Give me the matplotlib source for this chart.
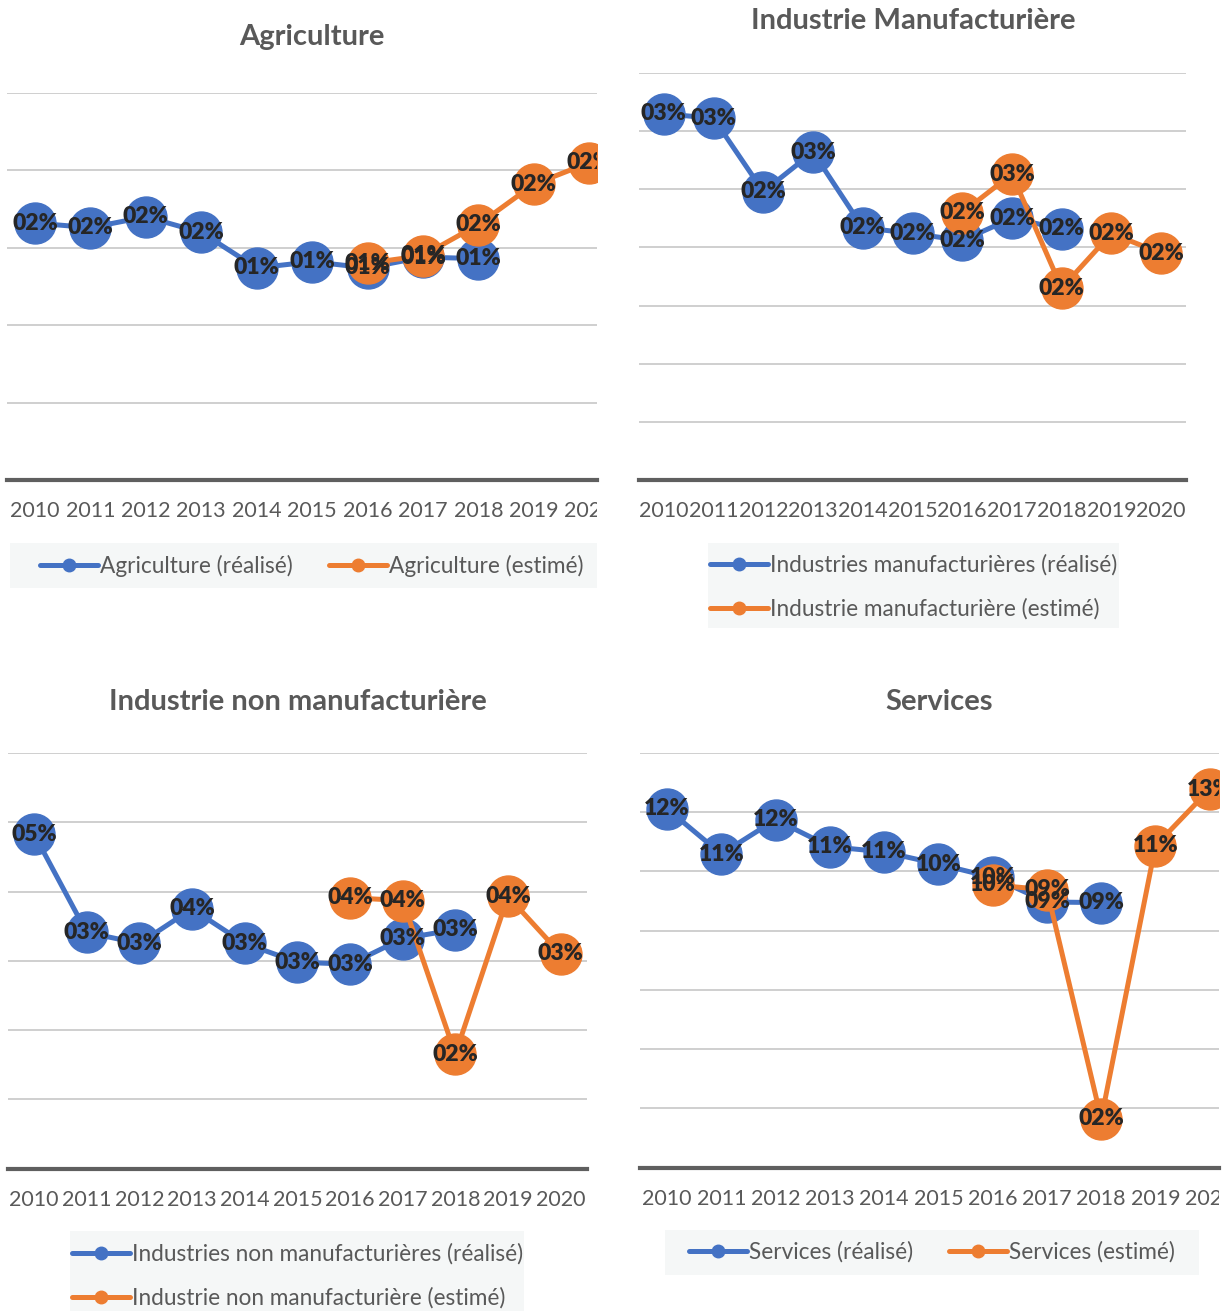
import math

import matplotlib

matplotlib.use("Agg")

import matplotlib.pyplot as plt  # noqa: E402
from matplotlib.lines import Line2D  # noqa: E402
from matplotlib.patches import Rectangle  # noqa: E402
from matplotlib.transforms import Bbox, ScaledTranslation, TransformedBbox  # noqa: E402

plt.rcParams["font.family"] = ["Lato", "DejaVu Sans"]

# ---------------------------------------------------------------------------
# Data (values in %)
# ---------------------------------------------------------------------------
years = [str(y) for y in range(2010, 2021)]
nan = float("nan")

agri_real = [1.66, 1.63, 1.70, 1.60, 1.37, 1.41, 1.37, 1.44, 1.43, nan, nan]
agri_est = [nan, nan, nan, nan, nan, nan, 1.40, 1.45, 1.65, 1.91, 2.05]

manu_real = [3.15, 3.11, 2.48, 2.82, 2.17, 2.12, 2.06, 2.25, 2.16, nan, nan]
manu_est = [nan, nan, nan, nan, nan, nan, 2.30, 2.63, 1.65, 2.12, 1.95]

nonmanu_real = [4.83, 3.41, 3.25, 3.75, 3.25, 2.98, 2.95, 3.32, 3.45, nan, nan]
nonmanu_est = [nan, nan, nan, nan, nan, nan, 3.91, 3.87, 1.65, 3.93, 3.10]

serv_real = [12.12, 10.59, 11.75, 10.84, 10.66, 10.25, 9.80, 8.97, 8.95, nan, nan]
serv_est = [nan, nan, nan, nan, nan, nan, 9.55, 9.38, 1.65, 10.87, 12.78]

BLUE = "#4472C4"
ORANGE = "#ED7D31"
GREY_TXT = "#595959"
W, H = 1224, 1311

fig = plt.figure(figsize=(W / 100, H / 100), dpi=100)


def px_axes(x0, y0, x1, y1):
    return fig.add_axes([x0 / W, 1 - y1 / H, (x1 - x0) / W, (y1 - y0) / H])


def panel(box, xmax, ymax, ystep, real, est, title, title_xy, clip_right,
          labels, legend_box, legend_center, ncol):
    ax = px_axes(*box)
    x = list(range(len(years)))
    ax.plot(x, real, color=BLUE, lw=3.6, marker="o", markersize=29.5,
            solid_capstyle="round", zorder=3)
    ax.plot(x, est, color=ORANGE, lw=3.6, marker="o", markersize=29.5,
            solid_capstyle="round", zorder=4)
    for series in (real, est):
        for xi, v in zip(x, series):
            if not math.isnan(v):
                ax.text(xi, v, f"{v:02.0f}%", ha="center", va="center",
                        fontsize=16.5, fontweight="heavy", color="#262626",
                        clip_on=True, zorder=6)
    ax.set_xlim(-0.5, xmax)
    ax.set_ylim(0, ymax)
    ax.set_yticks([ystep * k for k in range(1, int(round(ymax / ystep)) + 1)])
    ax.yaxis.grid(True, color="#cccccc", lw=1.3)
    ax.set_axisbelow(True)
    ax.set_xticks([])
    ax.tick_params(left=False, labelleft=False)
    for side in ("top", "left", "right"):
        ax.spines[side].set_visible(False)
    ax.spines["bottom"].set_color("#5f5f5f")
    ax.spines["bottom"].set_linewidth(3)

    # category labels, clipped like the original chart area
    clip = TransformedBbox(Bbox.from_extents(0, 0, clip_right / W, 1), fig.transFigure)
    trans = ax.get_xaxis_transform() + ScaledTranslation(0, -0.31, fig.dpi_scale_trans)
    for xi, yr in zip(x, years):
        t = ax.text(xi, 0, yr, transform=trans, ha="center", va="center",
                    fontsize=15.5, color=GREY_TXT, clip_on=True)
        t.set_clip_box(clip)

    fig.text(title_xy[0] / W, 1 - title_xy[1] / H, title, ha="center",
             va="center", fontsize=21, fontweight="bold", color=GREY_TXT)

    lx0, ly0, lx1, ly1 = legend_box
    fig.patches.append(Rectangle((lx0 / W, 1 - ly1 / H), (lx1 - lx0) / W,
                                 (ly1 - ly0) / H, transform=fig.transFigure,
                                 facecolor="#f5f7f7", edgecolor="none",
                                 zorder=0))
    handles = [Line2D([0], [0], color=BLUE, lw=3.6, marker="o", markersize=9,
                      solid_capstyle="round"),
               Line2D([0], [0], color=ORANGE, lw=3.6, marker="o", markersize=9,
                      solid_capstyle="round")]
    leg = fig.legend(handles, labels, loc="center",
                     bbox_to_anchor=(legend_center[0] / W, 1 - legend_center[1] / H),
                     ncol=ncol, frameon=False, fontsize=16.3, handlelength=2.55,
                     handletextpad=0.1, columnspacing=1.6, labelspacing=0.98,
                     borderpad=0)
    for txt in leg.get_texts():
        txt.set_color(GREY_TXT)
    return ax


panel((7.3, 93, 597, 480), 10.14, 2.5, 0.5, agri_real, agri_est,
      "Agriculture", (312, 37), 597,
      ["Agriculture (réalisé)", "Agriculture (estimé)"],
      (10, 543, 597, 588), (312, 566), 2)

panel((639, 73, 1186, 480), 10.5, 3.5, 0.5, manu_real, manu_est,
      "Industrie Manufacturière", (913, 21), W,
      ["Industries manufacturières (réalisé)", "Industrie manufacturière (estimé)"],
      (708, 543, 1119, 628), (914, 587), 1)

panel((7.7, 753, 587, 1168.5), 10.5, 6, 1, nonmanu_real, nonmanu_est,
      "Industrie non manufacturière", (298, 702), W,
      ["Industries non manufacturières (réalisé)",
       "Industrie non manufacturière (estimé)"],
      (70, 1231, 524, 1320), (298, 1276), 1)

panel((639.9, 753, 1219, 1167.7), 10.17, 14, 2, serv_real, serv_est,
      "Services", (939, 702), 1219,
      ["Services (réalisé)", "Services (estimé)"],
      (665, 1230, 1199, 1275), (932, 1252), 2)

fig.savefig("out.png", dpi=100)
